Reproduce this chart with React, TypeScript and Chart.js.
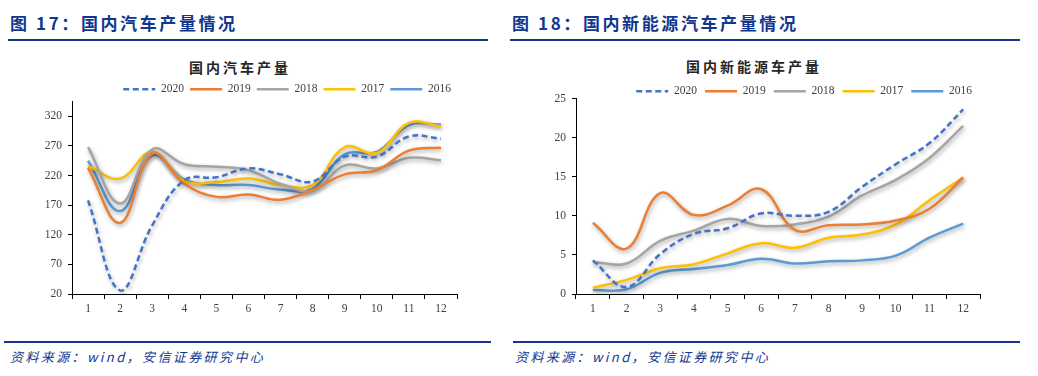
import React, { useEffect, useRef } from 'react';
import { Chart, registerables } from 'chart.js';

Chart.register(...registerables);

// ---- data ----
const months = ['1', '2', '3', '4', '5', '6', '7', '8', '9', '10', '11', '12'];
const years = ['2020', '2019', '2018', '2017', '2016'];
const seriesColors = ['#4472C4', '#ED7D31', '#A5A5A5', '#FFC000', '#5B9BD5'];

// 国内汽车产量 (万辆)
const car2020 = [178, 26, 136, 212, 217, 232, 222, 210, 252, 252, 286, 282];
const car2019 = [233, 140, 257, 206, 184, 188, 179, 196, 222, 229, 262, 267];
const car2018 = [268, 173, 264, 239, 235, 229, 206, 195, 237, 232, 250, 246];
const car2017 = [236, 215, 260, 211, 209, 215, 204, 204, 268, 258, 309, 303];
const car2016 = [245, 160, 254, 213, 204, 204, 196, 198, 256, 260, 305, 306];
const carTicks = [20, 70, 120, 170, 220, 270, 320];

// 国内新能源车产量 (万辆)
const nev2020 = [4.3, 0.9, 5.1, 7.7, 8.4, 10.3, 10.0, 10.5, 13.7, 16.6, 19.3, 23.6];
const nev2019 = [9.1, 5.8, 12.9, 10.1, 11.3, 13.4, 8.2, 8.8, 8.9, 9.4, 10.9, 14.9];
const nev2018 = [4.1, 3.9, 6.8, 8.1, 9.6, 8.7, 8.9, 9.9, 12.6, 14.6, 17.4, 21.5];
const nev2017 = [0.8, 1.8, 3.3, 3.8, 5.2, 6.5, 5.9, 7.2, 7.6, 8.9, 12.0, 14.9];
const nev2016 = [0.5, 0.6, 2.7, 3.2, 3.7, 4.5, 3.9, 4.2, 4.3, 4.9, 7.2, 9.0];
const nevTicks = [0, 5, 10, 15, 20, 25];

const BLUE = '#12378F';
const SERIF = "'Liberation Serif', 'Times New Roman', serif";
const CJK = "'Noto Sans CJK SC', sans-serif";

const shadowPlugin = {
  id: 'lineShadow',
  beforeDatasetDraw(chart: any) {
    const c = chart.ctx;
    c.save();
    c.shadowColor = 'rgba(0,0,0,0.35)';
    c.shadowBlur = 4;
    c.shadowOffsetX = 1;
    c.shadowOffsetY = 2;
  },
  afterDatasetDraw(chart: any) {
    chart.ctx.restore();
  },
};

function makeLegendShift(d: number) {
  return {
    id: 'legendShift',
    afterLayout(chart: any) {
      const l = chart.legend;
      if (l) {
        l.top += d;
        l.bottom += d;
      }
    },
  };
}

type Props = {
  series: number[][];
  ticks: number[];
  yMin: number;
  yMax: number;
  width: number;
  height: number;
  padTop: number;
  padRight: number;
  legendShift: number;
  legendPad: number;
};

function LineChart(p: Props) {
  const ref = useRef<HTMLCanvasElement | null>(null);
  useEffect(() => {
    if (!ref.current) return;
    const datasets = years.map((y, i) => ({
      label: y,
      data: p.series[i],
      borderColor: seriesColors[i],
      backgroundColor: seriesColors[i],
      borderWidth: 2.5,
      borderDash: i === 0 ? [6, 3.5] : [],
      pointRadius: 0,
      pointHoverRadius: 0,
      tension: 0.4,
      fill: false,
    }));
    const chart = new Chart(ref.current, {
      type: 'line',
      data: { labels: months, datasets },
      options: {
        responsive: false,
        animation: false,
        layout: { padding: { top: p.padTop, right: p.padRight, left: 0, bottom: 0 } },
        plugins: {
          tooltip: { enabled: false },
          title: { display: false },
          legend: {
            display: true,
            position: 'top',
            align: 'end',
            labels: {
              usePointStyle: true,
              pointStyle: 'line',
              pointStyleWidth: 32,
              boxHeight: 11,
              padding: p.legendPad,
              color: '#404040',
              font: { family: SERIF, size: 11.5 },
              generateLabels: (ch: any) =>
                ch.data.datasets.map((ds: any, i: number) => ({
                  text: ds.label,
                  datasetIndex: i,
                  fillStyle: ds.borderColor,
                  strokeStyle: ds.borderColor,
                  lineWidth: ds.borderWidth,
                  lineDash: ds.borderDash,
                  lineCap: 'butt',
                  pointStyle: 'line',
                  fontColor: '#404040',
                  hidden: false,
                })),
            },
          },
        },
        scales: {
          x: {
            type: 'category',
            offset: true,
            grid: {
              display: true,
              offset: true,
              drawOnChartArea: false,
              drawTicks: true,
              tickLength: 5,
              color: '#000',
            },
            border: { display: true, color: '#000', width: 1 },
            ticks: { color: '#404040', font: { family: SERIF, size: 11.5 }, padding: 3, maxRotation: 0 },
            afterFit: (s: any) => {
              s.height = 24;
            },
          },
          y: {
            type: 'linear',
            min: p.yMin,
            max: p.yMax,
            grid: {
              display: true,
              drawOnChartArea: false,
              drawTicks: true,
              tickLength: 4,
              color: '#000',
            },
            border: { display: true, color: '#000', width: 1 },
            ticks: { color: '#404040', font: { family: SERIF, size: 11.5 }, padding: 6 },
            afterBuildTicks: (s: any) => {
              s.ticks = p.ticks.map((v) => ({ value: v }));
            },
            afterFit: (s: any) => {
              s.width = 42;
            },
          },
        },
      },
      plugins: [shadowPlugin, makeLegendShift(p.legendShift)],
    } as any);
    return () => chart.destroy();
  }, []);
  return <canvas ref={ref} width={p.width} height={p.height} style={{ width: p.width, height: p.height, display: 'block' }} />;
}

const abs = (o: React.CSSProperties): React.CSSProperties => ({ position: 'absolute', ...o });

export default function App() {
  return (
    <div style={abs({ left: 0, top: 0, width: 1038, height: 376, background: '#fff', overflow: 'hidden' })}>
      {/* section headers */}
      <div style={abs({ left: 10, top: 11, fontFamily: CJK, fontWeight: 700, fontSize: 17, color: BLUE, letterSpacing: 2.6, whiteSpace: 'nowrap', lineHeight: '24px' })}>
        图 17：国内汽车产量情况
      </div>
      <div style={abs({ left: 512, top: 11, fontFamily: CJK, fontWeight: 700, fontSize: 17, color: BLUE, letterSpacing: 2.6, whiteSpace: 'nowrap', lineHeight: '24px' })}>
        图 18：国内新能源汽车产量情况
      </div>
      <div style={abs({ left: 8, top: 39, width: 480, height: 2, background: BLUE })} />
      <div style={abs({ left: 510, top: 39, width: 510, height: 2, background: BLUE })} />

      {/* chart titles */}
      <div style={abs({ left: 140, width: 200, top: 57, textAlign: 'center', fontFamily: CJK, fontWeight: 700, fontSize: 14, letterSpacing: 3, color: '#262626', lineHeight: '20px' })}>
        国内汽车产量
      </div>
      <div style={abs({ left: 654, width: 200, top: 56, textAlign: 'center', fontFamily: CJK, fontWeight: 700, fontSize: 14, letterSpacing: 3, color: '#262626', lineHeight: '20px' })}>
        国内新能源车产量
      </div>

      {/* charts */}
      <div style={abs({ left: 30, top: 60 })}>
        <LineChart
          series={[car2020, car2019, car2018, car2017, car2016]}
          ticks={carTicks}
          yMin={20}
          yMax={345}
          width={460}
          height={258}
          padTop={14}
          padRight={33}
          legendShift={3.5}
          legendPad={6}
        />
      </div>
      <div style={abs({ left: 534, top: 60 })}>
        <LineChart
          series={[nev2020, nev2019, nev2018, nev2017, nev2016]}
          ticks={nevTicks}
          yMin={0}
          yMax={25}
          width={486}
          height={258}
          padTop={9}
          padRight={40}
          legendShift={8.5}
          legendPad={8}
        />
      </div>

      {/* footers */}
      <div style={abs({ left: 4, top: 341, width: 487, height: 2, background: BLUE })} />
      <div style={abs({ left: 513, top: 341, width: 507, height: 2, background: BLUE })} />
      <div style={abs({ left: 10, top: 348, fontFamily: CJK, fontStyle: 'italic', fontSize: 13, color: BLUE, letterSpacing: 2.4, whiteSpace: 'nowrap', lineHeight: '18px' })}>
        资料来源：wind，安信证券研究中心
      </div>
      <div style={abs({ left: 515, top: 348, fontFamily: CJK, fontStyle: 'italic', fontSize: 13, color: BLUE, letterSpacing: 2.4, whiteSpace: 'nowrap', lineHeight: '18px' })}>
        资料来源：wind，安信证券研究中心
      </div>
    </div>
  );
}
